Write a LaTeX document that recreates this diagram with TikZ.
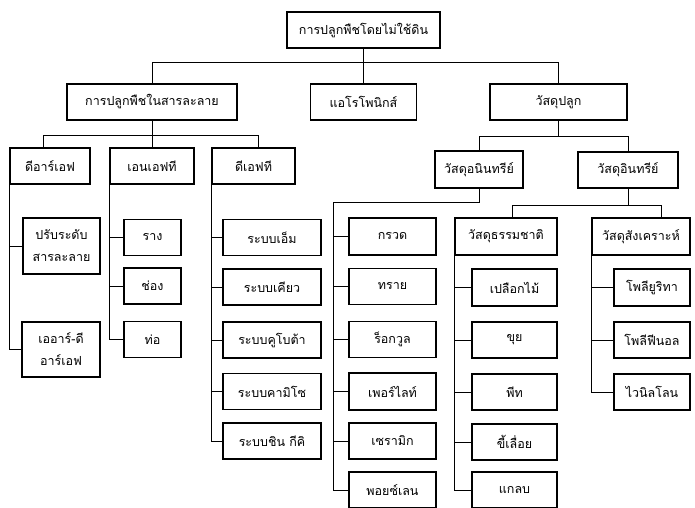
\documentclass[tikz,border=0pt]{standalone}
\usepackage{fontspec}
\usepackage{tikz}
\newfontfamily\thai[Script=Thai]{Loma}

\tikzset{
	box/.style={draw, line width=1.3pt, minimum height=36, inner sep=0pt, align=center, font=\thai\fontsize{12.5}{22}\selectfont},
	link/.style={line width=1pt}
}

\begin{document}
\begin{tikzpicture}[x=1pt,y=-1pt]
	\useasboundingbox (0,0) rectangle (695,507);
	% top levels
	\node[box, minimum width=153] (root) at (363.5,30) {การปลูกพืชโดยไม่ใช้ดิน};
	\node[box, minimum width=170] (sol) at (152,102) {การปลูกพืชในสารละลาย};
	\node[box, minimum width=106] (aero) at (363.5,102) {แอโรโพนิกส์};
	\node[box, minimum width=137] (mat) at (558.5,102) {วัสดุปลูก};
	
	\draw[link] (root.south) -- (aero.north);
	\draw[link] (root.south) -- ++(0,14) -| (sol.north);
	\draw[link] (root.south) -- ++(0,14) -| (mat.north);
	
	% solution culture
	\node[box, minimum width=80] (drf) at (50,166) {ดีอาร์เอฟ};
	\node[box, minimum width=84] (nft) at (152,166) {เอนเอฟที};
	\node[box, minimum width=83] (dft) at (253.5,166) {ดีเอฟที};
	
	\draw[link] (sol.south) -- (nft.north);
	\draw[link] (sol.south) -- ++(0,15) -| ([xshift=-7]drf.north);
	\draw[link] (sol.south) -- ++(0,15) -| ([xshift=4.5]dft.north);
	
	\node[box, minimum width=77, minimum height=56] (level) at (61.5,246) {ปรับระดับ\\สารละลาย};
	\node[box, minimum width=78, minimum height=55] (ardrf) at (61,349.5) {เออาร์-ดี\\อาร์เอฟ};
	
	\node[box, minimum width=57] (gutter) at (152.5,237.5) {ราง};
	\node[box, minimum width=57] (channel) at (152.5,286) {ช่อง};
	\node[box, minimum width=57] (pipe) at (152.5,339.5) {ท่อ};
	
	\node[box, minimum width=98] (msys) at (272,237.5) {ระบบเอ็ม};
	\node[box, minimum width=98] (kyo) at (272,287) {ระบบเคียว};
	\node[box, minimum width=98] (kubo) at (272,340) {ระบบคูโบต้า};
	\node[box, minimum width=98] (kami) at (272,391.5) {ระบบคามิโซ};
	\node[box, minimum width=98] (shin) at (272,441) {ระบบชิน กีคิ};
	
	\foreach \n in {level,ardrf}
		\draw[link] (drf.south west |- \n.west) -- (\n.west);
	\draw[link] (drf.south west) -- (drf.south west |- ardrf.west);
	\foreach \n in {gutter,channel,pipe}
		\draw[link] (nft.south west |- \n.west) -- (\n.west);
	\draw[link] (nft.south west) -- (nft.south west |- pipe.west);
	\foreach \n in {msys,kyo,kubo,kami,shin}
		\draw[link] (dft.south west |- \n.west) -- (\n.west);
	\draw[link] (dft.south west) -- (dft.south west |- shin.west);
	
	% growing media
	\node[box, minimum width=88, minimum height=37] (inorg) at (479,169.5) {วัสดุอนินทรีย์};
	\node[box, minimum width=100] (org) at (628,170) {วัสดุอินทรีย์};
	
	\draw[link] (mat.south) -- ++(0,16) -| (inorg.north);
	\draw[link] (mat.south) -- ++(0,16) -| (org.north);
	
	\node[box, minimum width=87, minimum height=37] (gravel) at (392.5,236.5) {กรวด};
	\node[box, minimum width=87] (sand) at (392.5,286.5) {ทราย};
	\node[box, minimum width=87] (rock) at (392.5,339.5) {ร็อกวูล};
	\node[box, minimum width=87, minimum height=37] (perl) at (392.5,391.5) {เพอร์ไลท์};
	\node[box, minimum width=87] (cera) at (392.5,441) {เซรามิก};
	\node[box, minimum width=87] (porc) at (392.5,490) {พอยซ์เลน};
	
	\coordinate (ispine) at (333,202);
	\draw[link] (inorg.south) |- (ispine) -- (ispine |- porc.west);
	\foreach \n in {gravel,sand,rock,perl,cera,porc}
		\draw[link] (ispine |- \n.west) -- (\n.west);
	
	\node[box, minimum width=102, minimum height=37] (nat) at (506,236.5) {วัสดุธรรมชาติ};
	\node[box, minimum width=98, minimum height=37] (syn) at (641,236.5) {วัสดุสังเคราะห์};
	
	\draw[link] (org.south) -- ++(0,17) -| ([xshift=6]nat.north);
	\draw[link] (org.south) -- ++(0,17) -| ([xshift=20]syn.north);
	
	\node[box, minimum width=85, minimum height=37] (bark) at (514.5,287.5) {เปลือกไม้};
	\node[box, minimum width=85] (coir) at (514.5,340) {ขุย};
	\node[box, minimum width=85] (peat) at (514.5,392) {พีท};
	\node[box, minimum width=85] (saw) at (514.5,442) {ขี้เลื่อย};
	\node[box, minimum width=85] (husk) at (514.5,490) {แกลบ};
	
	\foreach \n in {bark,coir,peat,saw,husk}
		\draw[link] (nat.south west |- \n.west) -- (\n.west);
	\draw[link] (nat.south west) -- (nat.south west |- husk.west);
	
	\node[box, minimum width=76, minimum height=37] (pure) at (652,287.5) {โพลียูริทา};
	\node[box, minimum width=76] (phen) at (652,340) {โพลีฟีนอล};
	\node[box, minimum width=76] (vin) at (652,392) {ไวนิลโลน};
	
	\foreach \n in {pure,phen,vin}
		\draw[link] (syn.south west |- \n.west) -- (\n.west);
	\draw[link] (syn.south west) -- (syn.south west |- vin.west);
\end{tikzpicture}
\end{document}
